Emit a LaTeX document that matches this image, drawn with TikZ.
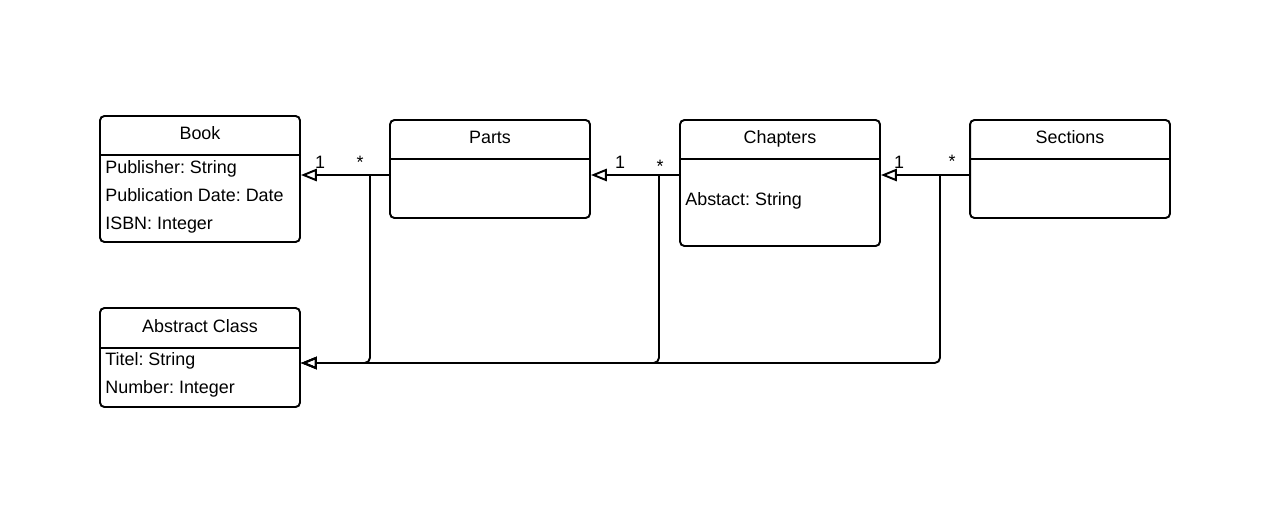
\documentclass[tikz,border=0pt]{standalone}
\usepackage{fontspec}
\setmainfont{Liberation Sans}
\frenchspacing
\usetikzlibrary{arrows.meta}
\begin{document}
\begin{tikzpicture}[x=0.02cm, y=-0.02cm, font=\fontsize{10.2}{12}\selectfont]
    \tikzset{
      cls/.style={rectangle, draw, line width=1.1pt, rounded corners=2.5pt,
                  minimum width=4cm, fill=white},
      title/.style={anchor=base, inner sep=0pt},
      attr/.style={anchor=base west, inner sep=0pt},
      conn/.style={line width=1.1pt},
      gen/.style={conn, -{Triangle[open, length=9pt, width=7pt]}},
      mult/.style={inner sep=0pt}
    }
    \useasboundingbox (0,0) rectangle (1280,514);

    % Klassen
    \node[cls, minimum height=2.52cm] (book) at (200,179) {};
    \node[cls, minimum height=1.96cm] (parts) at (490,169) {};
    \node[cls, minimum height=2.52cm] (chap) at (780,183) {};
    \node[cls, minimum height=1.96cm] (sect) at (1070,169) {};
    \node[cls, minimum height=1.98cm] (abs) at (200,357.5) {};

    \node[title] (booktitle) at (200,139) {Book};
    \node[title] (partstitle) at (490,143) {Parts};
    \node[title] (chaptitle) at (780,143) {Chapters};
    \node[title] (secttitle) at (1070,143) {Sections};
    \node[title] (abstitle) at (200,332) {Abstract Class};

    % Trennlinien
    \draw[conn] (book.west |- 0,155) -- (book.east |- 0,155);
    \draw[conn] (parts.west |- 0,159) -- (parts.east |- 0,159);
    \draw[conn] (chap.west |- 0,159) -- (chap.east |- 0,159);
    \draw[conn] (sect.west |- 0,159) -- (sect.east |- 0,159);
    \draw[conn] (abs.west |- 0,348) -- (abs.east |- 0,348);

    % Attribute
    \node[attr] (bookpub) at (105,173) {Publisher: String};
    \node[attr] (bookdate) at (105,201) {Publication Date: Date};
    \node[attr] (bookisbn) at (105,229) {ISBN: Integer};
    \node[attr] (chapabs) at (685,205) {Abstact: String};
    \node[attr] (abstitel) at (105,365) {Titel: String};
    \node[attr] (absnum) at (105,393) {Number: Integer};

    % Verbindungen
    \coordinate (pb) at (370,175);
    \coordinate (cp) at (659,175);
    \coordinate (sc) at (940,175);
    \coordinate (bar) at (0,363);

    \draw[gen] (parts.west |- pb) -- (book.east |- pb);
    \draw[gen] (chap.west |- cp) -- (parts.east |- cp);
    \draw[gen] (sect.west |- sc) -- (chap.east |- sc);

    \draw[gen, rounded corners=3pt] (pb) |- (abs.east |- bar);
    \draw[gen, rounded corners=3pt] (cp) |- (abs.east |- bar);
    \draw[gen, rounded corners=3pt] (sc) |- (abs.east |- bar);

    % Multiplizitaeten
    \node[mult] (m1) at (320,162) {1};
    \node[mult] (m2) at (360,162) {*};
    \node[mult] (m3) at (620,162) {1};
    \node[mult] (m4) at (660,166) {*};
    \node[mult] (m5) at (899,162) {1};
    \node[mult] (m6) at (952,161) {*};
  \end{tikzpicture}
\end{document}
